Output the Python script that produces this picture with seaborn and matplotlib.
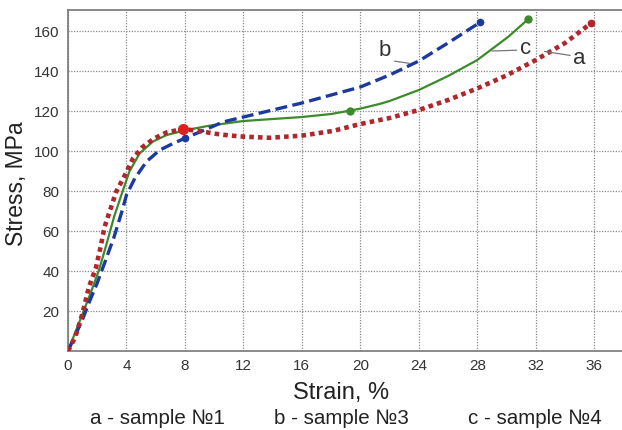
import matplotlib
matplotlib.use("Agg")
import matplotlib.pyplot as plt
import seaborn as sns
import pandas as pd

# --- data ---
a_strain = [0, 0.5, 1.0, 1.43, 1.9, 2.23, 2.5, 2.85, 3.3, 3.9, 4.45, 5.1, 5.9, 6.75, 7.85,
            9.0, 10, 11, 12, 13.8, 16, 18.1, 20, 22, 24, 26, 28, 30, 32, 34, 35.8]
a_stress = [0, 7, 19, 32, 41.3, 52, 62, 69.7, 79.7, 88, 96.3, 102, 106.3, 109.3, 111,
            110, 108.7, 107.8, 107.2, 106.6, 107.7, 110, 113.5, 116.5, 120.5, 125.5, 131.3,
            137.8, 145.5, 154, 164]

b_strain = [0, 0.98, 1.43, 2.0, 2.58, 3.15, 3.72, 4.0, 4.57, 5.37, 6.28, 7.2, 8.1, 9.5,
            10.6, 12, 14, 16, 18, 20, 22, 24, 26.1, 28.2]
b_stress = [0, 15.5, 24, 34, 45.5, 57, 70.5, 78, 86.3, 94.7, 100.5, 103.8, 106.7, 111,
            114.5, 117, 120.5, 124, 128, 132, 138, 145, 154.5, 164.4]

c_strain = [0, 0.75, 1.55, 2.12, 2.58, 3.15, 3.65, 4.2, 4.9, 5.8, 6.75, 8.1, 9.7, 12, 14,
            16, 18, 19.3, 20, 21.3, 22, 24, 26, 28, 30.1, 31.5]
c_stress = [0, 14, 29, 40.5, 52, 67, 78, 89.7, 98.8, 104.7, 108, 110.5, 112.7, 115, 116,
            117, 118.5, 120.2, 121.2, 123.5, 125, 130.5, 137.5, 145.5, 157, 166]

a_marks_x = [7.9, 35.8]
a_marks_y = [110.8, 164]
b_marks_x = [8.0, 28.2]
b_marks_y = [106.6, 164.4]
c_marks_x = [19.3, 31.5]
c_marks_y = [120.2, 166]

x_ticks = [0, 4, 8, 12, 16, 20, 24, 28, 32, 36]
y_ticks = [20, 40, 60, 80, 100, 120, 140, 160]
legend_texts = ["a - sample №1", "b - sample №3", "c - sample №4"]

sns.set_theme(style="white")
plt.rcParams['font.family'] = ['Liberation Sans', 'DejaVu Sans']

RED = "#b0262a"
BLUE = "#1c3a9e"
GREEN = "#3c8a2c"

fig = plt.figure(figsize=(6.22, 4.30), dpi=100)
ax = fig.add_axes([0.1093, 0.1837, 0.8907, 0.7930])

da = pd.DataFrame({"x": a_strain, "y": a_stress})
db = pd.DataFrame({"x": b_strain, "y": b_stress})
dc = pd.DataFrame({"x": c_strain, "y": c_stress})

sns.lineplot(data=dc, x="x", y="y", ax=ax, color=GREEN, lw=1.6, sort=False, estimator=None, zorder=3)
sns.lineplot(data=db, x="x", y="y", ax=ax, color=BLUE, lw=2.4, sort=False, estimator=None,
             zorder=4).lines[-1].set_dashes((3.6, 1.6))
la = sns.lineplot(data=da, x="x", y="y", ax=ax, color=RED, lw=3.3, sort=False, estimator=None, zorder=5)
la.lines[-1].set_dashes((1.0, 0.9))
la.lines[-1].set_dash_capstyle("butt")

ax.plot(a_marks_x[:1], a_marks_y[:1], "o", color="#e02020", ms=7, zorder=6)
ax.plot(a_marks_x[1:], a_marks_y[1:], "o", color=RED, ms=4.5, zorder=6)
ax.plot(b_marks_x, b_marks_y, "o", color=BLUE, ms=4.5, zorder=6)
ax.plot(c_marks_x, c_marks_y, "o", color=GREEN, ms=5, zorder=6)

# labels with leader lines
lab_kw = dict(fontsize=16, color="#333333", ha="center", va="center", zorder=7)
line_kw = dict(arrowstyle="-", color="#777777", lw=0.9, shrinkA=0, shrinkB=0)
ax.annotate("b", xy=(23.4, 143.8), xytext=(21.7, 150.5), arrowprops=dict(line_kw, relpos=(0.9, 0.0)), **lab_kw)
ax.annotate("c", xy=(29.0, 150.0), xytext=(31.3, 151.5), arrowprops=dict(line_kw, relpos=(0.0, 0.4)), **lab_kw)
ax.annotate("a", xy=(32.6, 149.8), xytext=(35.0, 146.5), arrowprops=dict(line_kw, relpos=(0.0, 0.6)), **lab_kw)

ax.set_xlim(0, 37.9)
ax.set_ylim(0, 170.5)
ax.set_xticks(x_ticks)
ax.set_yticks(y_ticks)
ax.tick_params(length=0, labelsize=11, colors="#333333", pad=6)
ax.grid(True, linestyle=(0, (1, 1.2)), color="#888888", lw=0.9)
ax.spines["right"].set_visible(False)
for s in ["left", "bottom", "top"]:
    ax.spines[s].set_color("#777777")
    ax.spines[s].set_linewidth(1.2)

ax.set_xlabel("Strain, %", fontsize=17, color="#222222")
ax.set_ylabel("Stress, MPa", fontsize=16.5, color="#222222")
ax.xaxis.label.set_va("center")
ax.xaxis.set_label_coords((340 - 68.4) / 552, -(393 - 351) / 341)
ax.yaxis.label.set_va("center")
ax.yaxis.set_label_coords((17.5 - 68.4) / 552, 0.49)

for t, xc in zip(legend_texts, [157, 341, 535]):
    fig.text(xc / 622, 1 - 418 / 430, t, fontsize=14.8, color="#222222", ha="center", va="center")

fig.savefig("out.png", dpi=100)
